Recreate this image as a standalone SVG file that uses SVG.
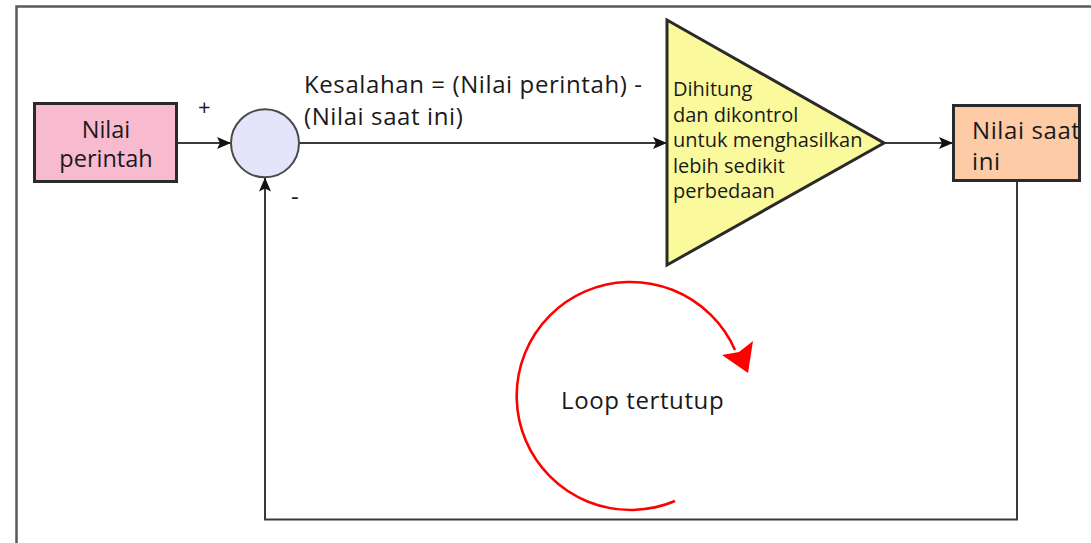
<svg xmlns="http://www.w3.org/2000/svg" width="1091" height="543" viewBox="0 0 1091 543">
  <style>
    text { font-family: "Open Sans", "Noto Sans", "Liberation Sans", sans-serif; fill: #1a1a1a; }
    .lbl { font-size: 24px; letter-spacing: 0.6px; }
    .box { font-size: 23.5px; }
    .small { font-size: 20px; }
    .wire { fill: none; stroke: #3a3a3a; stroke-width: 2; }
    .frame { fill: none; stroke: #5a5a5a; stroke-width: 2.5; }
    .block { stroke: #2a2a2a; stroke-width: 3; }
  </style>
  <defs>
    <marker id="arrow" viewBox="0 0 14 12" refX="14" refY="6" markerWidth="14" markerHeight="12" markerUnits="userSpaceOnUse" orient="auto">
      <path d="M0,0 L14,6 L0,12 L3,6 z" fill="#111"/>
    </marker>
    <clipPath id="clip-current">
      <rect x="953" y="105" width="126" height="75"/>
    </clipPath>
  </defs>

  <rect width="1091" height="543" fill="#ffffff"/>

  <!-- outer frame, runs past the right and bottom edges -->
  <rect class="frame" x="16.5" y="6.5" width="1100" height="600"/>

  <!-- connectors -->
  <g id="connectors">
    <path class="wire" d="M177,143 H231" marker-end="url(#arrow)"/>
    <path class="wire" d="M299,143 H667" marker-end="url(#arrow)"/>
    <path class="wire" d="M885,143 H953" marker-end="url(#arrow)"/>
    <path class="wire" d="M1017,181 V519.5 H265 V177.5" marker-end="url(#arrow)"/>
    <text class="lbl" x="304" y="93">Kesalahan = (Nilai perintah) -</text>
    <text class="lbl" x="304" y="125">(Nilai saat ini)</text>
    <text x="198" y="115" font-size="22">+</text>
    <text x="291" y="205" font-size="24">-</text>
  </g>

  <!-- setpoint -->
  <g id="node-setpoint">
    <rect class="block" x="34.5" y="103.5" width="142" height="78" fill="#F8BACE"/>
    <text class="box" x="106" y="138" text-anchor="middle">Nilai</text>
    <text class="box" x="106" y="167" text-anchor="middle">perintah</text>
  </g>

  <!-- summing junction -->
  <g id="node-sum">
    <circle cx="265" cy="143.3" r="34" fill="#E4E4FA" stroke="#4a4a4a" stroke-width="2"/>
  </g>

  <!-- controller -->
  <g id="node-controller">
    <polygon class="block" points="667,20 667,265 884,143" fill="#FAFA9C"/>
    <text class="small" x="673" y="96">Dihitung</text>
    <text class="small" x="673" y="121.5">dan dikontrol</text>
    <text class="small" x="673" y="147">untuk menghasilkan</text>
    <text class="small" x="673" y="172.5">lebih sedikit</text>
    <text class="small" x="673" y="198">perbedaan</text>
  </g>

  <!-- process value -->
  <g id="node-current">
    <rect class="block" x="953.5" y="105.5" width="126" height="75" fill="#FDCBA6"/>
    <g clip-path="url(#clip-current)">
      <text class="lbl" x="972" y="139">Nilai saat</text>
      <text class="lbl" x="972" y="170">ini</text>
    </g>
  </g>

  <!-- closed-loop indicator -->
  <g id="loop">
    <path d="M675,501 A114,114 0 1 1 735,350" fill="none" stroke="#FF0000" stroke-width="2.6"/>
    <polygon points="748,373 722,355 739,352 753,341" fill="#FF0000"/>
    <text class="lbl" x="561" y="409">Loop tertutup</text>
  </g>
</svg>
